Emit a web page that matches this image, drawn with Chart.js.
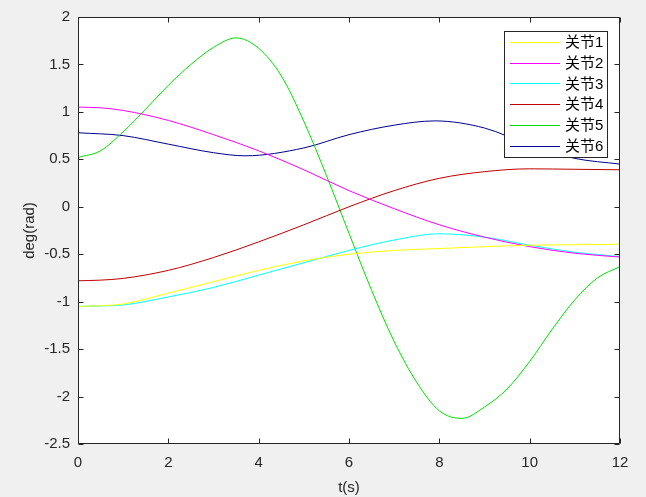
<!DOCTYPE html>
<html><head><meta charset="utf-8">
<script src="https://cdn.jsdelivr.net/npm/chart.js@4/dist/chart.umd.min.js"></script>
<style>html,body{margin:0;padding:0;background:#f0f0f0;}#wrap{width:646px;height:497px;}</style>
</head><body><div id="wrap"><canvas id="c" width="646" height="497"></canvas></div>
<script>
// ---- data ----
const seriesNames = ['关节1', '关节2', '关节3', '关节4', '关节5', '关节6'];
const seriesColors = ['#ffff00', '#ff00ff', '#00ffff', '#c00000', '#00e000', '#000090'];
const tCoarse = [0, 0.5, 1, 2, 3, 4, 5, 6, 7, 8, 9, 10, 11, 12];
const joint1 = [-1.05, -1.043, -1.025, -0.91, -0.79, -0.67, -0.57, -0.50, -0.46, -0.44, -0.42, -0.405, -0.40, -0.395];
const joint2 = [1.05, 1.043, 1.015, 0.91, 0.76, 0.59, 0.39, 0.17, -0.02, -0.19, -0.32, -0.42, -0.49, -0.53];
const joint3 = [-1.05, -1.045, -1.035, -0.95, -0.85, -0.72, -0.59, -0.46, -0.35, -0.285, -0.32, -0.405, -0.48, -0.525];
const joint4 = [-0.78, -0.773, -0.755, -0.67, -0.535, -0.37, -0.19, 0.0, 0.17, 0.30, 0.37, 0.40, 0.395, 0.39];
const tFine = [0, 0.5, 1, 1.5, 2, 2.5, 3, 3.5, 4, 4.5, 5, 5.5, 6, 6.5, 7, 7.5, 8, 8.5, 9, 9.5, 10, 10.5, 11, 11.5, 12];
const joint5 = [0.52, 0.59, 0.79, 1.03, 1.28, 1.50, 1.68, 1.78, 1.67, 1.38, 0.90, 0.33, -0.28, -0.88, -1.42, -1.85, -2.15, -2.23, -2.11, -1.92, -1.63, -1.29, -0.98, -0.75, -0.63];
const tJoint6 = [0, 1, 2, 3, 3.7, 5, 6, 7, 7.9, 9, 10, 11, 12];
const joint6 = [0.78, 0.75, 0.66, 0.57, 0.537, 0.62, 0.76, 0.86, 0.905, 0.83, 0.65, 0.51, 0.45];
const xTicks = [0, 2, 4, 6, 8, 10, 12];
const yTicks = [-2.5, -2, -1.5, -1, -0.5, 0, 0.5, 1, 1.5, 2];
const xTitle = 't(s)';
const yTitle = 'deg(rad)';

const FONT = "'Liberation Sans', Arial, 'Noto Sans CJK SC', sans-serif";
const AX = '#262626';

function pts(ts, vs) { return ts.map((t, i) => ({x: t, y: vs[i]})); }
const seriesData = [pts(tCoarse, joint1), pts(tCoarse, joint2), pts(tCoarse, joint3),
                    pts(tCoarse, joint4), pts(tFine, joint5), pts(tJoint6, joint6)];

const matlabAxes = {
  id: 'matlabAxes',
  beforeDraw(chart) {
    const {ctx, chartArea: a} = chart;
    ctx.save();
    ctx.fillStyle = '#f0f0f0';
    ctx.fillRect(0, 0, chart.width, chart.height);
    ctx.fillStyle = '#ffffff';
    ctx.fillRect(a.left, a.top, a.right - a.left, a.bottom - a.top);
    ctx.restore();
  },
  afterDatasetsDraw(chart) {
    const {ctx, chartArea: a, scales} = chart;
    ctx.save();
    ctx.strokeStyle = AX;
    ctx.lineWidth = 1;
    const L = Math.round(a.left) + 0.5, R = Math.round(a.right) - 0.5;
    const T = Math.round(a.top) + 0.5, B = Math.round(a.bottom) - 0.5;
    ctx.beginPath();
    ctx.rect(L, T, R - L, B - T);
    ctx.stroke();
    const tl = 5;
    ctx.beginPath();
    xTicks.forEach(v => {
      const p = Math.round(scales.x.getPixelForValue(v)) + 0.5;
      ctx.moveTo(p, B); ctx.lineTo(p, B - tl);
      ctx.moveTo(p, T); ctx.lineTo(p, T + tl);
    });
    yTicks.forEach(v => {
      const p = Math.round(scales.y.getPixelForValue(v)) + 0.5;
      ctx.moveTo(L, p); ctx.lineTo(L + tl, p);
      ctx.moveTo(R, p); ctx.lineTo(R - tl, p);
    });
    ctx.stroke();

    // legend
    const bw = 103, bh = 126;
    const bx = Math.round(a.right) - 13 - bw, by = Math.round(a.top) + 14;
    ctx.fillStyle = '#ffffff';
    ctx.fillRect(bx, by, bw, bh);
    ctx.strokeStyle = AX;
    ctx.strokeRect(bx + 0.5, by + 0.5, bw, bh);
    ctx.font = '15px ' + FONT;
    ctx.textBaseline = 'middle';
    ctx.textAlign = 'left';
    chart.data.datasets.forEach((ds, i) => {
      const y = by + 11 + i * 20.7;
      ctx.strokeStyle = ds.borderColor;
      ctx.beginPath();
      ctx.moveTo(bx + 6, Math.round(y) + 0.5);
      ctx.lineTo(bx + 56, Math.round(y) + 0.5);
      ctx.stroke();
      ctx.fillStyle = '#000000';
      ctx.fillText(ds.label, bx + 61, y + 1);
    });
    ctx.restore();
  }
};

new Chart(document.getElementById('c'), {
  type: 'line',
  data: {
    datasets: seriesNames.map((n, i) => ({
      label: n,
      data: seriesData[i],
      borderColor: seriesColors[i],
      backgroundColor: seriesColors[i],
      borderWidth: 1,
      pointRadius: 0,
      fill: false,
      cubicInterpolationMode: 'monotone'
    }))
  },
  options: {
    responsive: false,
    animation: false,
    devicePixelRatio: 1,
    layout: {padding: {left: 0, top: 17, right: 26, bottom: 0}},
    plugins: {legend: {display: false}, tooltip: {enabled: false}},
    scales: {
      x: {
        type: 'linear', min: 0, max: 12,
        afterBuildTicks: s => { s.ticks = xTicks.map(v => ({value: v})); },
        afterFit: s => { s.height = 53; },
        grid: {display: false, drawTicks: false},
        border: {display: false},
        ticks: {color: AX, font: {family: FONT, size: 15}, padding: 10, maxRotation: 0,
                callback: v => String(v)},
        title: {display: true, text: xTitle, color: AX, font: {family: FONT, size: 15},
                padding: {top: 1, bottom: 0}}
      },
      y: {
        type: 'linear', min: -2.5, max: 2,
        afterBuildTicks: s => { s.ticks = yTicks.map(v => ({value: v})); },
        afterFit: s => { s.width = 78; },
        grid: {display: false, drawTicks: false},
        border: {display: false},
        ticks: {color: AX, font: {family: FONT, size: 15}, padding: 8,
                callback: v => String(v)},
        title: {display: true, text: yTitle, color: AX, font: {family: FONT, size: 15},
                padding: {top: 21, bottom: 0}}
      }
    }
  },
  plugins: [matlabAxes]
});
</script>
</body></html>
